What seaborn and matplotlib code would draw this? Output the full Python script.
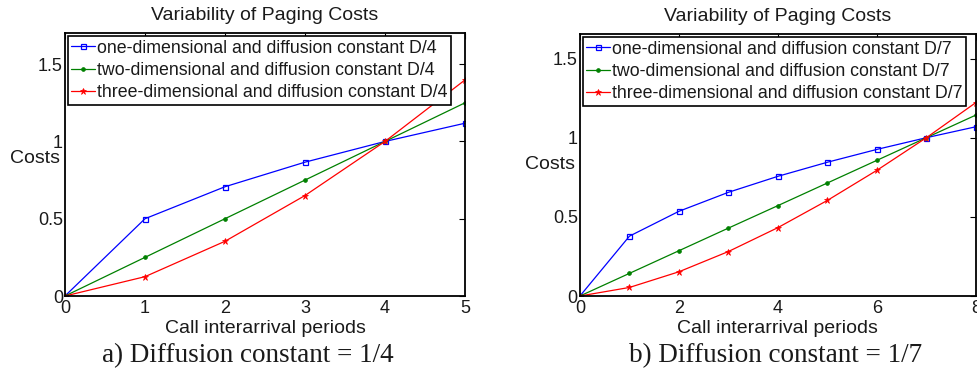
import matplotlib
matplotlib.use("Agg")
import matplotlib.pyplot as plt
import seaborn as sns

# Data: normalized paging costs versus call interarrival periods
x_a = [0, 1, 2, 3, 4, 5]
one_dim_a = [0, 0.5, 0.707, 0.866, 1.0, 1.118]
two_dim_a = [0, 0.25, 0.5, 0.75, 1.0, 1.25]
three_dim_a = [0, 0.125, 0.354, 0.65, 1.0, 1.398]

x_b = [0, 1, 2, 3, 4, 5, 6, 7, 8]
one_dim_b = [0, 0.378, 0.535, 0.655, 0.756, 0.845, 0.926, 1.0, 1.069]
two_dim_b = [0, 0.143, 0.286, 0.429, 0.571, 0.714, 0.857, 1.0, 1.143]
three_dim_b = [0, 0.054, 0.153, 0.281, 0.432, 0.604, 0.794, 1.0, 1.222]

labels_a = ["one-dimensional and diffusion constant D/4",
            "two-dimensional and diffusion constant D/4",
            "three-dimensional and diffusion constant D/4"]
labels_b = ["one-dimensional and diffusion constant D/7",
            "two-dimensional and diffusion constant D/7",
            "three-dimensional and diffusion constant D/7"]

xticks_a = [0, 1, 2, 3, 4, 5]
xticks_b = [0, 2, 4, 6, 8]
yticks = [0, 0.5, 1, 1.5]
ytick_labels = ["0", "0.5", "1", "1.5"]

sns.set_theme(style="white")
plt.rcParams["font.family"] = ["Liberation Sans", "DejaVu Sans"]

BLUE = (0, 0, 1)
GREEN = (0, 0.5, 0)
RED = (1, 0, 0)
TEXT = "#1a1a1a"

fig = plt.figure(figsize=(9.77, 3.72), dpi=100)
ax_a = fig.add_axes([0.0665, 0.2043, 0.4094, 0.7062])
ax_b = fig.add_axes([0.5936, 0.2043, 0.4053, 0.7035])


def draw(ax, xs, series, labels, xlim, ylim, xticks):
    styles = [
        dict(color=BLUE, marker="s", markersize=3.6, markerfacecolor="none",
             markeredgecolor=BLUE, markeredgewidth=0.9),
        dict(color=GREEN, marker=".", markersize=5.5, markerfacecolor=GREEN,
             markeredgecolor=GREEN, markeredgewidth=0.5),
        dict(color=RED, marker="*", markersize=4.5, markerfacecolor=RED,
             markeredgecolor=RED, markeredgewidth=0.5),
    ]
    for ys, lab, st in zip(series, labels, styles):
        sns.lineplot(x=xs, y=ys, ax=ax, label=lab, linewidth=0.9, **st)
    ax.set_xlim(*xlim)
    ax.set_ylim(*ylim)
    ax.set_xticks(xticks)
    ax.set_xticklabels([str(t) for t in xticks])
    ax.set_yticks(yticks)
    ax.set_yticklabels(ytick_labels)
    ax.tick_params(direction="in", length=4, width=0.8, top=True, right=True,
                   labelsize=13, colors="black", labelcolor=TEXT)
    ax.tick_params(axis="x", pad=3)
    ax.tick_params(axis="y", pad=1.5)
    for sp in ax.spines.values():
        sp.set_visible(True)
        sp.set_color("black")
        sp.set_linewidth(1.3)
    ax.set_title("Variability of Paging Costs", fontsize=14, pad=9.5, color=TEXT)
    ax.set_xlabel("Call interarrival periods", fontsize=14, color=TEXT)
    ax.set_ylabel("Costs", fontsize=14, rotation=0, color=TEXT)
    leg = ax.legend(loc="upper left", fontsize=12.8, frameon=True, fancybox=False,
                    borderpad=0.2, labelspacing=0.3, handlelength=1.35,
                    handletextpad=0.12, borderaxespad=0.15, framealpha=1)
    for t in leg.get_texts():
        t.set_color(TEXT)
    leg.get_frame().set_edgecolor("black")
    leg.get_frame().set_linewidth(1.2)


draw(ax_a, x_a, [one_dim_a, two_dim_a, three_dim_a], labels_a,
     (0, 5), (0, 1.7), xticks_a)
draw(ax_b, x_b, [one_dim_b, two_dim_b, three_dim_b], labels_b,
     (0, 8), (0, 1.653), xticks_b)

ax_a.yaxis.set_label_coords(-0.075, 0.49)
ax_b.yaxis.set_label_coords(-0.076, 0.47)
ax_a.xaxis.set_label_coords(0.5, -0.09)
ax_b.xaxis.set_label_coords(0.5, -0.09)

fig.text(248 / 977, 1 - 356 / 372, "a) Diffusion constant = 1/4",
         ha="center", va="center", fontsize=19.5, color=TEXT,
         family=["Liberation Serif", "DejaVu Serif"])
fig.text(776 / 977, 1 - 356 / 372, "b) Diffusion constant = 1/7",
         ha="center", va="center", fontsize=19.5, color=TEXT,
         family=["Liberation Serif", "DejaVu Serif"])

fig.savefig("out.png", dpi=100, facecolor="white")
